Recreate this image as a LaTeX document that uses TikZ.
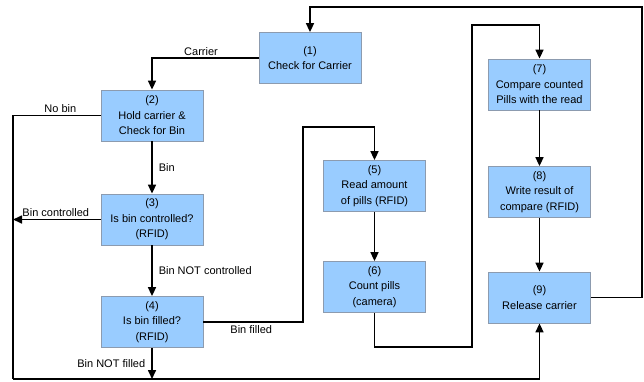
\documentclass[tikz,border=0pt]{standalone}
\usepackage{fontspec}
\setmainfont{Liberation Sans}
\usetikzlibrary{arrows.meta}
\definecolor{boxblue}{RGB}{153,204,255}
\definecolor{boxline}{RGB}{140,155,175}
\tikzstyle{stepbox} = [draw=boxline,fill=boxblue,line width=0.8pt,minimum width=102pt,minimum height=51pt,inner sep=0pt,align=center,font=\fontsize{11}{15.5}\selectfont]
\tikzstyle{arrow} = [line width=1.6pt,-{Triangle[length=9pt,width=8pt]}]
\tikzstyle{line} = [line width=1.6pt]
\tikzstyle{lbl} = [font=\fontsize{11}{13}\selectfont,inner sep=2pt]

\begin{document}
\begin{tikzpicture}[x=1pt,y=-1pt]
            \useasboundingbox (0,0) rectangle (644,381);
            % Steps
            \node[stepbox] (n1) at (310,58) {(1)\\Check for Carrier};
            \node[stepbox] (n2) at (152,115.5) {(2)\\Hold carrier \&\\Check for Bin};
            \node[stepbox] (n3) at (152,219.5) {(3)\\Is bin controlled?\\(RFID)};
            \node[stepbox] (n4) at (152,322) {(4)\\Is bin filled?\\(RFID)};
            \node[stepbox] (n5) at (374.5,186) {(5)\\Read amount\\of pills (RFID)};
            \node[stepbox] (n6) at (374.5,287) {(6)\\Count pills\\(camera)};
            \node[stepbox] (n7) at (539.5,84.5) {(7)\\Compare counted\\Pills with the read};
            \node[stepbox] (n8) at (539.5,192) {(8)\\Write result of\\compare (RFID)};
            \node[stepbox] (n9) at (539.5,297.5) {(9)\\Release carrier};
            % corners
            \coordinate (loopR) at (642,7);
            \coordinate (noBin) at (13,379);
            \coordinate (fillUp) at (303,127);
            \coordinate (camBot) at (472,347);
            \coordinate (camTop) at (472,25);
            % edges
            \draw[arrow] (n9.east) -| (loopR) -| (n1.north);
            \draw[arrow] (n1.west) -| node[lbl,pos=0.27,above] {Carrier} (n2.north);
            \draw[line] (n2.west) -| node[lbl,pos=0.23,above] {No bin} (noBin);
            \draw[arrow] (n2) -- node[lbl,midway,right,xshift=4pt] {Bin} (n3);
            \draw[arrow] (n3.west) -- node[lbl,midway,above,xshift=-1pt] {Bin controlled} (n3.west -| noBin);
            \draw[arrow] (n3) -- node[lbl,midway,right,xshift=4pt] {Bin NOT controlled} (n4);
            \draw[arrow] (n4.east) -| node[lbl,pos=0.24,below,yshift=-1pt] {Bin filled} (fillUp) -| (n5.north);
            \draw[arrow] (n4.south) -- node[lbl,midway,left,xshift=-4pt] {Bin NOT filled} (n4.south |- noBin);
            \draw[arrow] (noBin) -| (n9.south);
            \draw[arrow] (n5) -- (n6);
            \draw[arrow] (n6.south) |- (camBot) -- (camTop) -| (n7.north);
            \draw[arrow] (n7) -- (n8);
            \draw[arrow] (n8) -- (n9);
\end{tikzpicture}
\end{document}
